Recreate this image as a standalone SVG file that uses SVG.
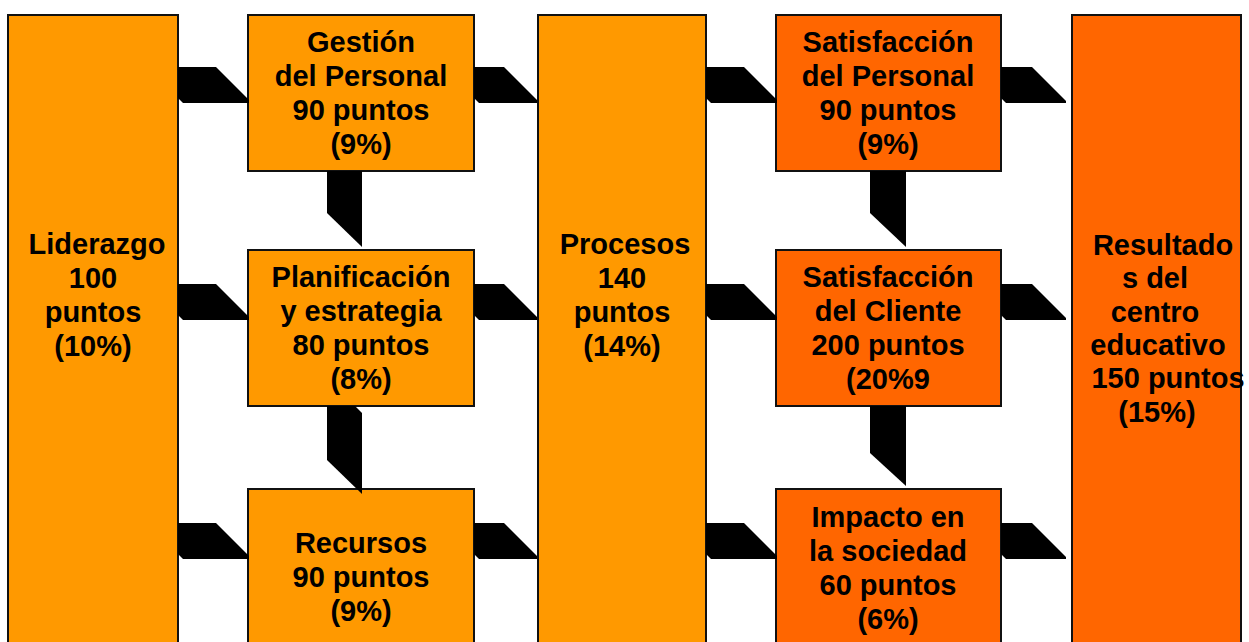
<svg xmlns="http://www.w3.org/2000/svg" width="1249" height="642" viewBox="0 0 1249 642">
<style>
.lt{fill:#FF9900;stroke:#111;stroke-width:2}
.dk{fill:#FF6600;stroke:#111;stroke-width:2}
text{font-family:"Liberation Sans",Arial,sans-serif;font-weight:bold;font-size:29px;fill:#000;text-anchor:middle}
.cn{fill:#000}
</style>
<rect width="1249" height="642" fill="#fff"/>
<g id="liderazgo">
<rect class="lt" x="8" y="15" width="170" height="650"/>
<text x="97" y="254">Liderazgo</text>
<text x="93" y="288">100</text>
<text x="93" y="322">puntos</text>
<text x="93" y="356">(10%)</text>
</g>
<g id="gestion">
<rect class="lt" x="248" y="15" width="226" height="156"/>
<text x="361" y="52">Gestión</text>
<text x="361" y="86">del Personal</text>
<text x="361" y="120">90 puntos</text>
<text x="361" y="154">(9%)</text>
</g>
<g id="planificacion">
<rect class="lt" x="248" y="250" width="226" height="156"/>
<text x="361" y="287">Planificación</text>
<text x="361" y="321">y estrategia</text>
<text x="361" y="355">80 puntos</text>
<text x="361" y="389">(8%)</text>
</g>
<g id="recursos">
<rect class="lt" x="248" y="489" width="226" height="180"/>
<text x="361" y="553">Recursos</text>
<text x="361" y="587">90 puntos</text>
<text x="361" y="621">(9%)</text>
</g>
<g id="procesos">
<rect class="lt" x="538" y="15" width="168" height="650"/>
<text x="625" y="254">Procesos</text>
<text x="622" y="288">140</text>
<text x="622" y="322">puntos</text>
<text x="622" y="356">(14%)</text>
</g>
<g id="satisfaccion-personal">
<rect class="dk" x="776" y="15" width="225" height="156"/>
<text x="888" y="52">Satisfacción</text>
<text x="888" y="86">del Personal</text>
<text x="888" y="120">90 puntos</text>
<text x="888" y="154">(9%)</text>
</g>
<g id="satisfaccion-cliente">
<rect class="dk" x="776" y="250" width="225" height="156"/>
<text x="888" y="287">Satisfacción</text>
<text x="888" y="321">del Cliente</text>
<text x="888" y="355">200 puntos</text>
<text x="888" y="389">(20%9</text>
</g>
<g id="impacto">
<rect class="dk" x="776" y="489" width="225" height="180"/>
<text x="888" y="527">Impacto en</text>
<text x="888" y="561">la sociedad</text>
<text x="888" y="595">60 puntos</text>
<text x="888" y="629">(6%)</text>
</g>
<g id="resultados">
<rect class="dk" x="1072" y="15" width="169" height="650"/>
<text x="1163" y="255">Resultado</text>
<text x="1155" y="288">s del</text>
<text x="1155" y="322">centro</text>
<text x="1158" y="355">educativo</text>
<text x="1168" y="388">150 puntos</text>
<text x="1157" y="422">(15%)</text>
</g>
<g id="connectors">
<polygon class="cn" points="178,67 216,67 249,100 249,103 183,103 178,98"/>
<polygon class="cn" points="178,284 216,284 249,317 249,320 183,320 178,315"/>
<polygon class="cn" points="178,523 216,523 249,556 249,559 183,559 178,554"/>
<polygon class="cn" points="474,67 504,67 537,100 537,103 479,103 474,98"/>
<polygon class="cn" points="474,284 504,284 537,317 537,320 479,320 474,315"/>
<polygon class="cn" points="474,523 504,523 537,556 537,559 479,559 474,554"/>
<polygon class="cn" points="706,67 744,67 777,100 777,103 711,103 706,98"/>
<polygon class="cn" points="706,284 744,284 777,317 777,320 711,320 706,315"/>
<polygon class="cn" points="706,523 744,523 777,556 777,559 711,559 706,554"/>
<polygon class="cn" points="1001,67 1032,67 1066,101 1066,103 1006,103 1001,98"/>
<polygon class="cn" points="1001,284 1032,284 1066,318 1066,320 1006,320 1001,315"/>
<polygon class="cn" points="1001,523 1032,523 1066,557 1066,559 1006,559 1001,554"/>
<polygon class="cn" points="327,171 362,171 362,247 327,213"/>
<polygon class="cn" points="327,406 355,406 362,413 362,494 327,460"/>
<polygon class="cn" points="870,171 906,171 906,247 870,213"/>
<polygon class="cn" points="870,406 906,406 906,486 870,453"/>
</g>
</svg>
